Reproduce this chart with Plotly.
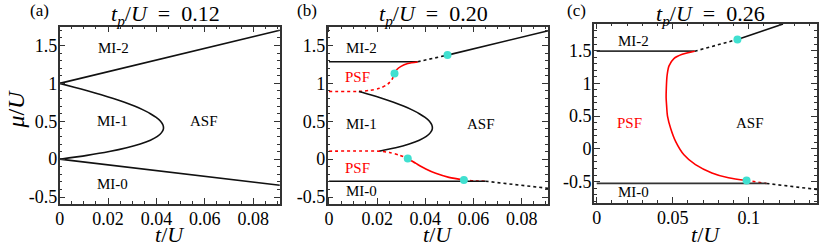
import plotly.graph_objects as go

# ---------------- data ----------------
# panel (a) t_p/U = 0.12
a_up_t = [0.0, 0.091]
a_up_mu = [1.0, 1.70]
a_lo_t = [0.0, 0.091]
a_lo_mu = [0.0, -0.345]
lobe_a_t = [0, 0.006, 0.0118, 0.0172, 0.0222, 0.0268, 0.0309, 0.0345, 0.0375, 0.0399, 0.0417,
            0.0427, 0.0429, 0.0421, 0.0404, 0.0375, 0.0333, 0.0277, 0.0205, 0.0113, 0]
lobe_a_mu = [1, 0.95, 0.9, 0.85, 0.8, 0.75, 0.7, 0.65, 0.6, 0.55, 0.5,
             0.45, 0.4, 0.35, 0.3, 0.25, 0.2, 0.15, 0.1, 0.05, 0]

# panel (b) t_p/U = 0.20
b_mi2_t = [0.0, 0.0368]
b_mi2_mu = [1.285, 1.285]
b_up_dash_t = [0.0368, 0.0492]
b_up_dash_mu = [1.285, 1.373]
b_up_solid_t = [0.0492, 0.091]
b_up_solid_mu = [1.373, 1.695]
b_psf_up_solid_t = [0.0368, 0.0327, 0.0299, 0.0281, 0.0272]
b_psf_up_solid_mu = [1.283, 1.262, 1.225, 1.18, 1.13]
b_psf_up_dash_t = [0.0, 0.0124, 0.0169, 0.021, 0.0244, 0.0262, 0.0272]
b_psf_up_dash_mu = [0.894, 0.894, 0.908, 0.935, 0.99, 1.055, 1.13]
lobe_b_t = [0.0124, 0.0172, 0.0222, 0.0268, 0.0309, 0.0345, 0.0375, 0.0399, 0.0417,
            0.0427, 0.0429, 0.0421, 0.0404, 0.0375, 0.0333, 0.0277, 0.0207]
lobe_b_mu = [0.894, 0.85, 0.8, 0.75, 0.7, 0.65, 0.6, 0.55, 0.5,
             0.45, 0.4, 0.35, 0.3, 0.25, 0.2, 0.15, 0.105]
b_psf_lo_dash1_t = [0.0, 0.0207, 0.0251, 0.0292, 0.0327]
b_psf_lo_dash1_mu = [0.105, 0.105, 0.088, 0.053, 0.009]
b_psf_lo_solid_t = [0.0327, 0.0361, 0.0402, 0.0443, 0.0498, 0.056]
b_psf_lo_solid_mu = [0.009, -0.056, -0.13, -0.187, -0.24, -0.274]
b_psf_lo_dash2_t = [0.056, 0.0608, 0.065]
b_psf_lo_dash2_mu = [-0.274, -0.287, -0.291]
b_mi0_t = [0.0, 0.065]
b_mi0_mu = [-0.291, -0.291]
b_lo_dash_t = [0.065, 0.091]
b_lo_dash_mu = [-0.291, -0.385]
b_dots_t = [0.0492, 0.0272, 0.0327, 0.056]
b_dots_mu = [1.373, 1.13, 0.009, -0.274]

# panel (c) t_p/U = 0.26
c_mi2_t = [0.0, 0.0645]
c_mi2_mu = [1.49, 1.49]
c_up_dash_t = [0.0645, 0.0926]
c_up_dash_mu = [1.49, 1.67]
c_up_solid_t = [0.0926, 0.1226]
c_up_solid_mu = [1.67, 1.906]
c_psf_solid_t = [0.0645, 0.0563, 0.0508, 0.0476, 0.0463, 0.0458, 0.0457, 0.0460, 0.0466,
                 0.0487, 0.052, 0.0574, 0.065, 0.0758, 0.0867, 0.0986]
c_psf_solid_mu = [1.49, 1.443, 1.378, 1.267, 1.116, 0.915, 0.78, 0.664, 0.5,
                  0.312, 0.111, -0.09, -0.241, -0.367, -0.442, -0.483]
c_psf_dash_t = [0.0986, 0.105, 0.1117]
c_psf_dash_mu = [-0.483, -0.51, -0.528]
c_mi0_t = [0.0, 0.1117]
c_mi0_mu = [-0.528, -0.528]
c_lo_dash_t = [0.1117, 0.145]
c_lo_dash_mu = [-0.528, -0.62]
c_dots_t = [0.0926, 0.0986]
c_dots_mu = [1.67, -0.483]

# labels
titles = ["<i>t</i><sub><i>p</i></sub>/<i>U</i>&nbsp;&nbsp;=&nbsp;&nbsp;0.12",
          "<i>t</i><sub><i>p</i></sub>/<i>U</i>&nbsp;&nbsp;=&nbsp;&nbsp;0.20",
          "<i>t</i><sub><i>p</i></sub>/<i>U</i>&nbsp;&nbsp;=&nbsp;&nbsp;0.26"]
panel_tags = ["(a)", "(b)", "(c)"]
ab_xticks = [0, 0.02, 0.04, 0.06, 0.08]
ab_xtext = ["0", "0.02", "0.04", "0.06", "0.08"]
c_xticks = [0, 0.05, 0.1]
c_xtext = ["0", "0.05", "0.1"]
yticks = [-0.5, 0, 0.5, 1, 1.5]
ytext = ["-0.5", "0", "0.5", "1", "1.5"]

region_labels = [
    # (panel, t, mu, text, color)
    (1, 0.0224, 1.47, "MI-2", "black"),
    (1, 0.022, 0.5, "MI-1", "black"),
    (1, 0.022, -0.33, "MI-0", "black"),
    (1, 0.0595, 0.5, "ASF", "black"),
    (2, 0.0134, 1.47, "MI-2", "black"),
    (2, 0.012, 1.085, "PSF", "red"),
    (2, 0.0134, 0.467, "MI-1", "black"),
    (2, 0.0629, 0.467, "ASF", "black"),
    (2, 0.012, -0.12, "PSF", "red"),
    (2, 0.0134, -0.42, "MI-0", "black"),
    (3, 0.0239, 1.645, "MI-2", "black"),
    (3, 0.0217, 0.388, "PSF", "red"),
    (3, 0.101, 0.388, "ASF", "black"),
    (3, 0.0239, -0.66, "MI-0", "black"),
]

# ---------------- figure ----------------
FONT = "Liberation Serif"
W, H = 830, 252
BLACK = "#111111"
RED = "#ff0000"
CYAN = "#40e0d0"
DASH = "3px,3px"

fig = go.Figure()


def line(x, y, ax, color=BLACK, dash="solid", shape="linear", width=1.6):
    xs = "x" if ax == 1 else f"x{ax}"
    ys = "y" if ax == 1 else f"y{ax}"
    fig.add_trace(go.Scatter(x=x, y=y, mode="lines", xaxis=xs, yaxis=ys,
                             line=dict(color=color, dash=dash, width=width, shape=shape,
                                       smoothing=0.8 if shape == "spline" else None),
                             showlegend=False, hoverinfo="skip"))


def dots(x, y, ax):
    xs = "x" if ax == 1 else f"x{ax}"
    ys = "y" if ax == 1 else f"y{ax}"
    fig.add_trace(go.Scatter(x=x, y=y, mode="markers", xaxis=xs, yaxis=ys,
                             marker=dict(color=CYAN, size=8, line=dict(width=0)),
                             showlegend=False, hoverinfo="skip"))


# (a)
line(a_up_t, a_up_mu, 1)
line(a_lo_t, a_lo_mu, 1)
line(lobe_a_t, lobe_a_mu, 1, shape="spline")

# (b)
line(b_mi2_t, b_mi2_mu, 2)
line(b_up_dash_t, b_up_dash_mu, 2, dash=DASH)
line(b_up_solid_t, b_up_solid_mu, 2)
line(b_psf_up_solid_t, b_psf_up_solid_mu, 2, color=RED, shape="spline")
line(b_psf_up_dash_t, b_psf_up_dash_mu, 2, color=RED, dash=DASH, shape="spline")
line(lobe_b_t, lobe_b_mu, 2, shape="spline")
line(b_psf_lo_dash1_t, b_psf_lo_dash1_mu, 2, color=RED, dash=DASH, shape="spline")
line(b_psf_lo_solid_t, b_psf_lo_solid_mu, 2, color=RED, shape="spline")
line(b_psf_lo_dash2_t, b_psf_lo_dash2_mu, 2, color=RED, dash=DASH, shape="spline")
line(b_mi0_t, b_mi0_mu, 2)
line(b_lo_dash_t, b_lo_dash_mu, 2, dash=DASH)
dots(b_dots_t, b_dots_mu, 2)

# (c)
line(c_mi2_t, c_mi2_mu, 3, color="#333333", width=1.8)
line(c_up_dash_t, c_up_dash_mu, 3, dash=DASH)
line(c_up_solid_t, c_up_solid_mu, 3)
line(c_psf_solid_t, c_psf_solid_mu, 3, color=RED, shape="spline")
line(c_psf_dash_t, c_psf_dash_mu, 3, color=RED, dash=DASH)
line(c_mi0_t, c_mi0_mu, 3, color="#333333", width=1.8)
line(c_lo_dash_t, c_lo_dash_mu, 3, dash=DASH)
dots(c_dots_t, c_dots_mu, 3)

# domains in pixels
xdom = [(55, 276.5), (324.5, 546.5), (592.5, 817)]
ydom = [(27, 206.5), (27, 206.5), (24, 205)]
xranges = [[0, 0.091], [-0.0006, 0.091], [-0.0018, 0.145]]
yranges = [[-0.592, 1.748], [-0.592, 1.748], [-0.82, 1.91]]

axis_common = dict(showgrid=False, zeroline=False, showline=True, linecolor="#333333",
                   linewidth=1.5, mirror="ticks", ticks="inside", ticklen=6,
                   tickwidth=1.2, tickcolor="#333333",
                   tickfont=dict(family=FONT, size=18, color="black"))

layout = dict(width=W, height=H, margin=dict(l=0, r=0, t=0, b=0),
              plot_bgcolor="white", paper_bgcolor="white",
              font=dict(family=FONT, color="black"))

for i in range(3):
    sfx = "" if i == 0 else str(i + 1)
    xd = [xdom[i][0] / W, xdom[i][1] / W]
    yd = [1 - ydom[i][1] / H, 1 - ydom[i][0] / H]
    if i < 2:
        xt, xtt, xminor = ab_xticks, ab_xtext, 0.005
    else:
        xt, xtt, xminor = c_xticks, c_xtext, 0.01
    layout["xaxis" + sfx] = dict(axis_common, domain=xd, range=xranges[i],
                                 anchor="y" + sfx, tickvals=xt, ticktext=xtt,
                                 ticklabelstandoff=-2,
                                 minor=dict(dtick=xminor, tick0=0, ticks="inside",
                                            ticklen=3, tickcolor="#333333", tickwidth=1.1,
                                            showgrid=False))
    layout["yaxis" + sfx] = dict(axis_common, domain=yd, range=yranges[i],
                                 anchor="x" + sfx, tickvals=yticks, ticktext=ytext,
                                 ticklabelstandoff=-3,
                                 minor=dict(dtick=0.1, tick0=0, ticks="inside",
                                            ticklen=3, tickcolor="#333333", tickwidth=1.1,
                                            showgrid=False))

fig.update_layout(**layout)

annotations = []
title_cx = [161, 431, 710]
for i in range(3):
    cx = (xdom[i][0] + xdom[i][1]) / 2 / W
    annotations.append(dict(xref="paper", yref="paper", x=title_cx[i] / W, y=1,
                            text=titles[i], showarrow=False,
                            font=dict(family=FONT, size=22), xanchor="center",
                            yanchor="top", borderpad=0))
    annotations.append(dict(xref="paper", yref="paper", x=cx, y=1 - 237 / H,
                            text="<i>t</i>/<i>U</i>", showarrow=False,
                            font=dict(family=FONT, size=22), xanchor="center",
                            yanchor="middle", borderpad=0))
tag_x = [23, 291.5, 563]
for i in range(3):
    annotations.append(dict(xref="paper", yref="paper", x=tag_x[i] / W, y=1 - 11 / H,
                            text=panel_tags[i], showarrow=False,
                            font=dict(family=FONT, size=17), xanchor="left",
                            yanchor="middle"))
annotations.append(dict(xref="paper", yref="paper", x=11 / W, y=1 - 110 / H,
                        text="<i>μ</i>/<i>U</i>", showarrow=False, textangle=-90,
                        font=dict(family=FONT, size=24), xanchor="center",
                        yanchor="middle"))
for p, t, mu, txt, col in region_labels:
    sfx = "" if p == 1 else str(p)
    annotations.append(dict(xref="x" + sfx, yref="y" + sfx, x=t, y=mu, text=txt,
                            showarrow=False, font=dict(family=FONT, size=15, color=col),
                            xanchor="center", yanchor="middle"))
fig.update_layout(annotations=annotations)

fig.write_html("out.html", config={"displayModeBar": False},
               post_script="document.body.style.margin='0';document.body.style.overflow='hidden';")
